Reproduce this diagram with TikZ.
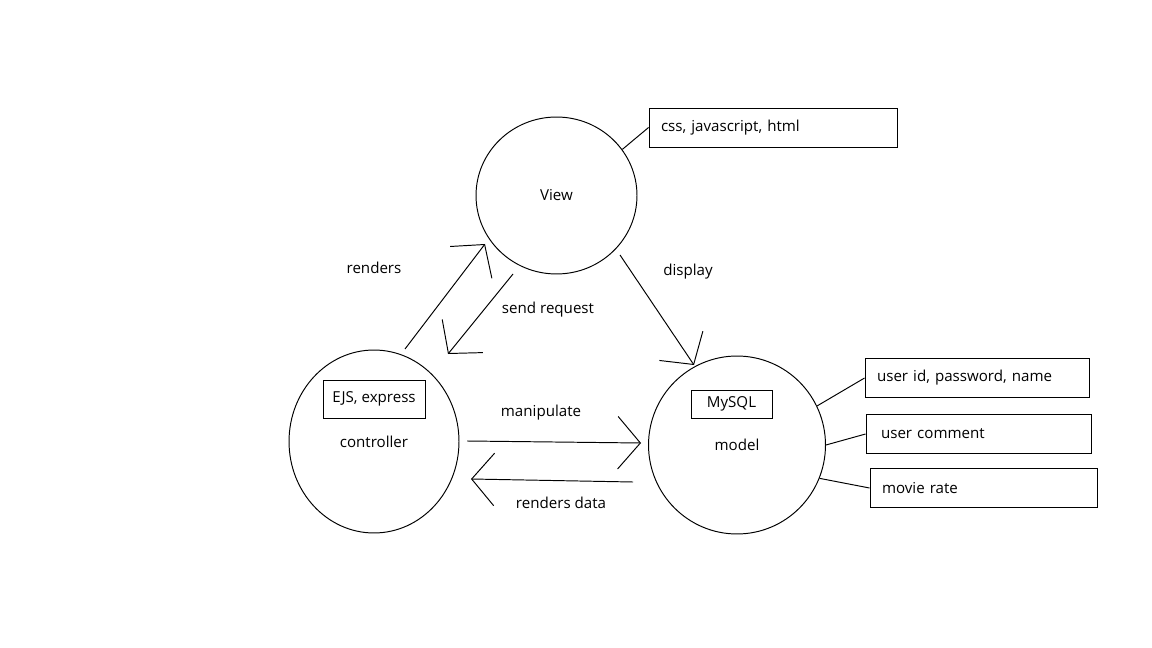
\documentclass[tikz,border=0pt]{standalone}
\usepackage{fontspec}
\setmainfont{Open Sans}
\usetikzlibrary{shapes.geometric,arrows.meta}

\begin{document}
\begin{tikzpicture}[x=0.02cm,y=-0.02cm,line width=0.55pt,
  font=\fontsize{8.6}{10}\selectfont,
  blob/.style={ellipse,draw,inner sep=0pt},
  infobox/.style={draw,rectangle,minimum height=0.78cm,inner xsep=0.24cm,align=left},
  tagbox/.style={draw,rectangle,inner sep=0pt},
  arrow/.style={-{Straight Barb[length=0.45cm,width=1.05cm]}}]
 \useasboundingbox (0,0) rectangle (1152,648);

 % the three parts
 \node [blob,minimum width=3.22cm,minimum height=3.14cm] (view) at (556.5,195.5) {View};
 \node [blob,minimum width=3.4cm,minimum height=3.66cm] (controller) at (374,441.5) {controller};
 \node [blob,minimum width=3.54cm,minimum height=3.56cm] (model) at (737,445) {model};

 \node [tagbox,minimum width=2.04cm,minimum height=0.76cm] (ejs) at (374,399) {EJS, express};
 \node [tagbox,minimum width=1.62cm,minimum height=0.56cm] (mysql) at (731.5,404) {MySQL};

 % notes
 \node [infobox,text width=4.48cm] (cssbox) at (773,127.5) {css, javascript, html};
 \node [infobox,text width=4cm] (userbox) at (977,378) {user id, password, name};
 \node [infobox,text width=3.9cm,inner xsep=0.3cm] (commentbox) at (978.5,434) {user comment};
 \node [infobox,text width=4.06cm] (ratebox) at (983.5,488) {movie rate};

 \draw (view.35) -- (cssbox.west);
 \foreach \a/\b in {26/userbox,0/commentbox,-22/ratebox}
   \draw (model.\a) -- (\b.west);

 % arrows
 \coordinate (rendersA) at (405,349);  \coordinate (rendersB) at (485,244);
 \coordinate (requestA) at (513,274);  \coordinate (requestB) at (448,354);
 \coordinate (displayA) at (620,255);  \coordinate (displayB) at (694,365);
 \coordinate (manipA) at (467,441);    \coordinate (manipB) at (641,443);
 \coordinate (dataA) at (633,482);     \coordinate (dataB) at (471,479);
 \foreach \s in {renders,request,display,manip,data}
   \draw [arrow] (\s A) -- (\s B);

 \node (renders) at (374,268) {renders};
 \node (request) at (548,310) {send request};
 \node (display) at (688,272) {display};
 \node (manip) at (541,413) {manipulate};
 \node (data) at (561,503) {renders data};
\end{tikzpicture}
\end{document}
